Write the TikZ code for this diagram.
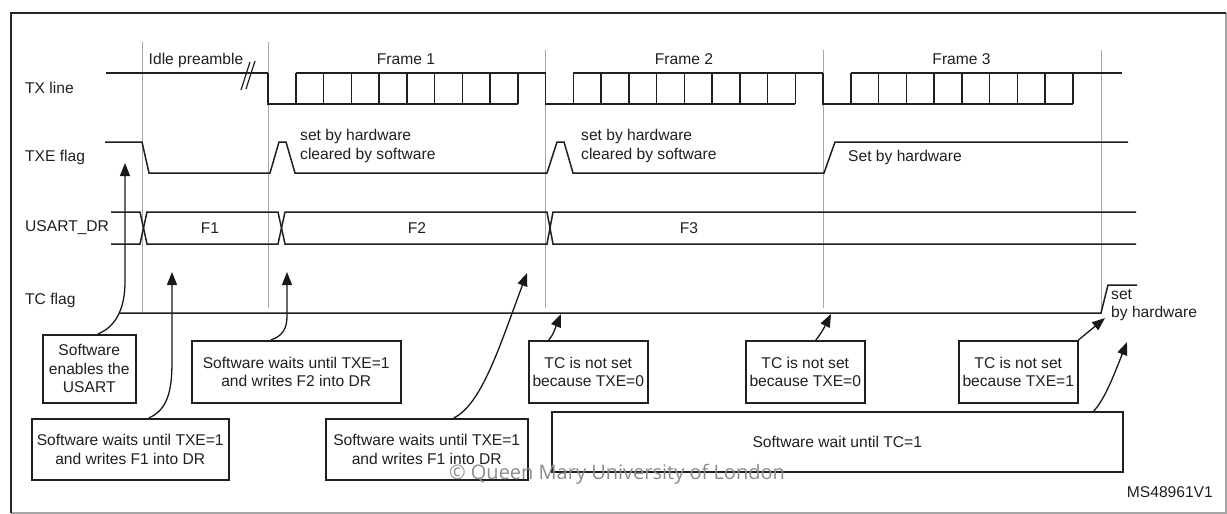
\documentclass[tikz,border=0pt]{standalone}
\usepackage{fontspec}
\setmainfont{Liberation Sans}
\newfontfamily\wmfont{Open Sans}
\usetikzlibrary{arrows.meta}
\begin{document}
\begin{tikzpicture}[x=1pt,y=-1pt,
  wave/.style={line width=1.5pt, draw=black!88},
  guide/.style={line width=0.9pt, draw=black!35},
  lbl/.style={font=\fontsize{15.6}{18.5}\selectfont, text=black!88, inner sep=0pt},
  box/.style={draw=black!88, line width=1.5pt, align=center, inner sep=0pt, anchor=north west,
              font=\fontsize{15.6}{18.5}\selectfont, text=black!88},
  arr/.style={line width=1.3pt, draw=black!90, -{Triangle[length=13pt,width=10pt]}},
]
\useasboundingbox (0,0) rectangle (1227,514);
% outer frame
\draw[line width=1.2pt, black!35] (1226,13) -- (1226,513) -- (11,513);
\draw[line width=1.5pt, black!85] (11,513) -- (11,13) -- (1226,13);

% guide lines
\draw[guide] (142,42) -- (142,312);
\draw[guide] (268,42) -- (268,308);
\draw[guide] (545.5,50) -- (545.5,308);
\draw[guide] (823,50) -- (823,308);
\draw[guide] (1101,50) -- (1101,313);

% row labels
\node[lbl, anchor=west] (ltx) at (25,88) {TX line};
\node[lbl, anchor=west] (ltxe) at (25,157) {TXE flag};
\node[lbl, anchor=west] (ldr) at (25,228) {USART\_DR};
\node[lbl, anchor=west] (ltc) at (25,300) {TC flag};

% frame labels
\node[lbl] (idle) at (196,60) {Idle preamble};
\node[lbl] (fr1) at (406,59) {Frame 1};
\node[lbl] (fr2) at (684,59) {Frame 2};
\node[lbl] (fr3) at (961.5,59) {Frame 3};

% TX line
\draw[wave] (106,73) -- (268,73);
\draw[wave] (295.75,73) -- (545.5,73);
\draw[wave] (573.25,73) -- (823,73);
\draw[wave] (850.75,73) -- (1122,73);
\foreach \xo in {268,545.5,823} {
  \draw[wave] (\xo,73) -- (\xo,104) -- ({\xo+9*27.75},104);
  \foreach \j in {1,...,9} \draw[wave] ({\xo+\j*27.75},73) -- ({\xo+\j*27.75},104);
}
% break marks
\draw[line width=1.2pt, black!88] (241,90) -- (250,62);
\draw[line width=1.2pt, black!88] (246,89) -- (255,61);

% TXE flag
\draw[wave] (105,142) -- (142,142) -- (149,173) -- (270,173) -- (279,142) -- (286,142) -- (295,173)
  -- (547,173) -- (557,142) -- (564,142) -- (573,173) -- (824,173) -- (835,142) -- (1128,142);
\node[lbl, anchor=west, align=left] (txe1) at (300,146) {set by hardware\\cleared by software};
\node[lbl, anchor=west, align=left] (txe2) at (581,146) {set by hardware\\cleared by software};
\node[lbl, anchor=west] (txe3) at (848,157) {Set by hardware};

% USART_DR
\draw[wave] (111,212) -- (140,212) -- (147,244) -- (278,244) -- (285,212) -- (547,212) -- (553,244) -- (1136,244);
\draw[wave] (111,244) -- (140,244) -- (147,212) -- (278,212) -- (285,244) -- (547,244) -- (553,212) -- (1136,212);
\node[lbl] (f1) at (210,228) {F1};
\node[lbl] (f2) at (417,228) {F2};
\node[lbl] (f3) at (689,228) {F3};

% TC flag
\draw[wave] (119,313) -- (1101,313) -- (1108,285) -- (1137,285);
\node[lbl, anchor=west, align=left] (tcset) at (1111,305) {set\\by hardware};

% boxes
\node[box, minimum width=93pt, minimum height=68pt] (b1) at (42,334) {Software\\enables the\\USART};
\node[box, minimum width=197pt, minimum height=61pt] (b2) at (31,418) {Software waits until TXE=1\\and writes F1 into DR};
\node[box, minimum width=209pt, minimum height=62pt] (b3) at (191,340) {Software waits until TXE=1\\and writes F2 into DR};
\node[box, minimum width=202pt, minimum height=61pt] (b4) at (325,418) {Software waits until TXE=1\\and writes F1 into DR};
\node[box, minimum width=119pt, minimum height=62pt] (b5) at (528,340) {TC is not set\\because TXE=0};
\node[box, minimum width=119pt, minimum height=62pt] (b6) at (745,340) {TC is not set\\because TXE=0};
\node[box, minimum width=119pt, minimum height=62pt] (b7) at (958,340) {TC is not set\\because TXE=1};
\node[box, minimum width=571pt, minimum height=60pt] (b8) at (551,411) {Software wait until TC=1};

% arrow targets
\coordinate (t1) at (125,163);
\coordinate (t2) at (172,272);
\coordinate (t3) at (287,272);
\coordinate (t4) at (527,273);
\coordinate (t5) at (561,314);
\coordinate (t6) at (831,314);
\coordinate (t7) at (1105,318);
\coordinate (t8) at (1127,342);

% arrows
\draw[arr] ([xshift=8.5pt]b1.north) .. controls (118,326) and (125,305) .. (125,282) -- (t1);
\draw[arr] ([xshift=18.5pt]b2.north) .. controls (167,410) and (172,392) .. (172,362) -- (t2);
\draw[arr] ([xshift=-25.5pt]b3.north) .. controls (283,336) and (287,328) .. (287,316) -- (t3);
\draw[arr] ([xshift=27pt]b4.north) .. controls (482,404) and (500,345) .. (t4);
\draw[arr] ([xshift=-39.5pt]b5.north) .. controls (554,334) and (556,326) .. (t5);
\draw[arr] ([xshift=10.5pt]b6.north) .. controls (821,334) and (825,326) .. (t6);
\draw[arr] (b7.north east) -- (t7);
\draw[arr] ([xshift=256.5pt]b8.north) .. controls (1104,400) and (1112,380) .. (t8);

% reference id
\node[lbl, anchor=east] (ms) at (1213,492) {MS48961V1};

% watermark
\node[inner sep=0pt, text=black!45, font=\wmfont\fontsize{20}{24}\selectfont] (wm) at (617,474) {© Queen Mary University of London};
\end{tikzpicture}
\end{document}
